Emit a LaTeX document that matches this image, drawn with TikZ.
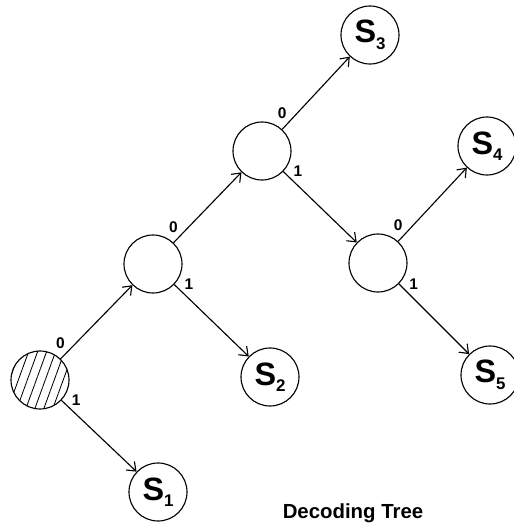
\documentclass[tikz,border=0pt]{standalone}
\usepackage{fontspec}
\setmainfont{Liberation Sans}
\usetikzlibrary{arrows.meta,patterns.meta}

\newcommand{\lowidx}[1]{\raisebox{-0.2em}{\fontsize{12}{12}\selectfont #1}}

\begin{document}
\begin{tikzpicture}[x=0.025cm,y=0.025cm,line width=0.8pt,
        state/.style={circle,draw,minimum size=1.45cm,inner sep=0pt,font=\bfseries\fontsize{23}{23}\selectfont},
        bit/.style={font=\bfseries\fontsize{11}{11}\selectfont,inner sep=0pt},
        >={Straight Barb[length=5.5pt,width=8.5pt]}]
        \useasboundingbox (0,0) rectangle (514,529);
        % internal nodes
        \node[state,pattern={Lines[angle=70,distance=6pt,line width=0.6pt]}] (root) at (40,149) {};
        \node[state] (a) at (153,265) {};
        \node[state] (b) at (262,378) {};
        \node[state] (c) at (378,266) {};
        % leaves
        \node[state] (s1) at (158,37) {S\lowidx{1}};
        \node[state] (s2) at (270,152) {S\lowidx{2}};
        \node[state] (s3) at (370,494) {S\lowidx{3}};
        \node[state] (s4) at (487,383) {S\lowidx{4}};
        \node[state] (s5) at (490,154) {S\lowidx{5}};
        % branches
        \draw[->] (root) -- (a) node[pos=0,bit,above=7pt] {0};
        \draw[->] (root) -- (s1) node[pos=0,bit,right=7pt] {1};
        \draw[->] (a) -- (b) node[pos=0,bit,above=7pt] {0};
        \draw[->] (a) -- (s2) node[pos=0,bit,right=7pt] {1};
        \draw[->] (b) -- (s3) node[pos=0,bit,above=7pt] {0};
        \draw[->] (b) -- (c) node[pos=0,bit,right=7pt] {1};
        \draw[->] (c) -- (s4) node[pos=0,bit,above=7pt] {0};
        \draw[->] (c) -- (s5) node[pos=0,bit,right=7pt] {1};
        \node[font=\bfseries\fontsize{14.5}{14.5}\selectfont,anchor=base] (title) at (353,11) {Decoding Tree};
\end{tikzpicture}
\end{document}
